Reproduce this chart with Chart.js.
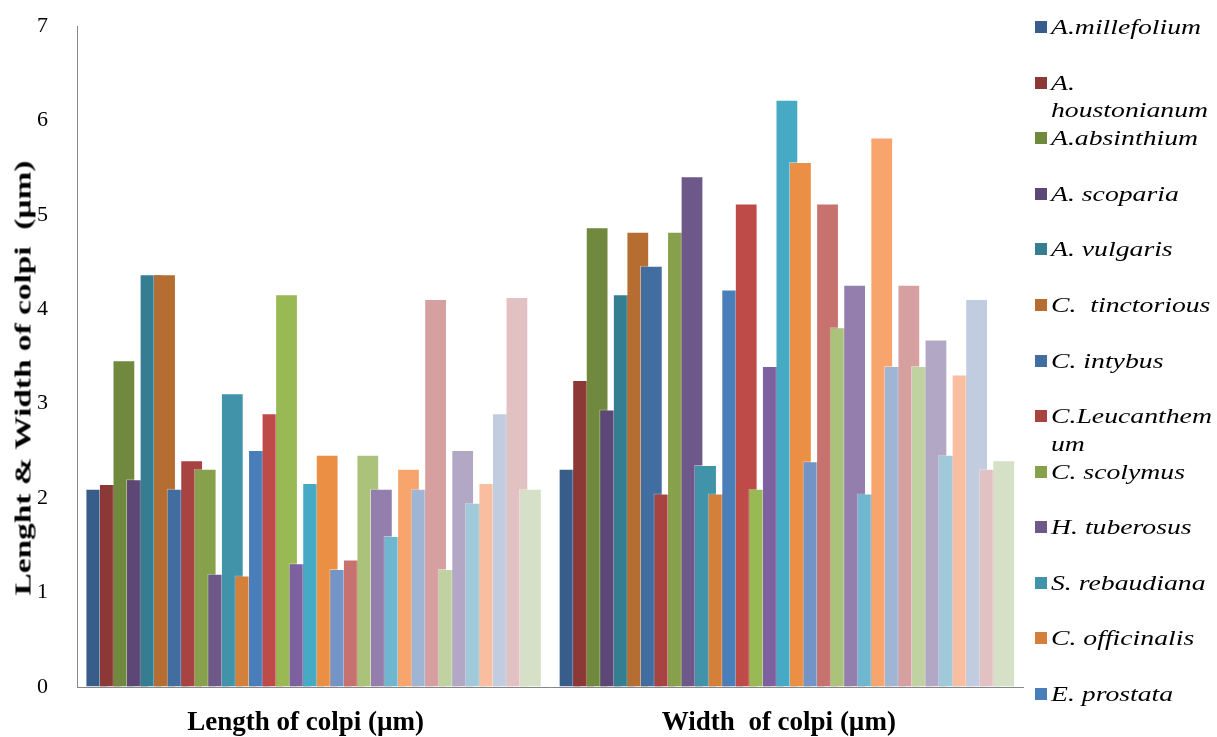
<!DOCTYPE html>
<html>
<head>
<meta charset="utf-8">
<script src="https://cdn.jsdelivr.net/npm/chart.js@4/dist/chart.umd.min.js"></script>
<style>
  html, body { margin: 0; padding: 0; background: #ffffff; }
  #wrap { position: relative; width: 1217px; height: 737px; overflow: hidden; background: #ffffff; }
  #c { position: absolute; left: 0; top: 0; }
  #ytitle {
    position: absolute; left: 23px; top: 378px;
    font: bold 23px "Liberation Serif", "Times New Roman", serif;
    color: #000; white-space: pre; line-height: 1;
    transform: translate(-50%, -50%) rotate(-90deg) scaleX(1.45);
  }
  .lg-item { position: absolute; left: 1035px; height: 55px; }
  .lg-swatch { position: absolute; left: 0; width: 12px; height: 12px; }
  .lg-text {
    position: absolute; left: 16px; width: 135px;
    font: italic 22px "Liberation Serif", "Times New Roman", serif;
    line-height: 27.5px; color: #000;
    white-space: pre-wrap; overflow-wrap: anywhere;
    transform-origin: 0 0; transform: scaleX(1.26);
  }
</style>
</head>
<body>
<div id="wrap">
  <canvas id="c" width="1217" height="737"></canvas>
  <div id="ytitle">Lenght &amp; Width of colpi  (µm)</div>
  <div id="legend"></div>
</div>
<script>
// Two measured quantities, one bar per taxon in each group
const categories = ['Length of colpi (µm)', 'Width  of colpi (µm)'];

const lengthValues = [
  2.10, 2.15, 3.46, 2.20, 4.37, 4.37, 2.10, 2.40, 2.31, 1.20, 3.11,
  1.18, 2.51, 2.90, 4.16, 1.31, 2.16, 2.46, 1.25, 1.35, 2.46, 2.10,
  1.60, 2.31, 2.10, 4.11, 1.25, 2.51, 1.95, 2.16, 2.90, 4.13, 2.10
];

const widthValues = [
  2.31, 3.25, 4.87, 2.94, 4.16, 4.82, 4.46, 2.05, 4.82, 5.41, 2.35,
  2.05, 4.21, 5.12, 2.10, 3.40, 6.22, 5.56, 2.39, 5.12, 3.81, 4.26,
  2.05, 5.82, 3.40, 4.26, 3.40, 3.68, 2.46, 3.31, 4.11, 2.31, 2.40
];

const seriesColors = [
  '#385D8A', '#8C3836', '#71893F', '#5C4776', '#357D91', '#B66D31',
  '#426DA1', '#A74442', '#87A04B', '#6E5789', '#4193AA', '#D4803A',
  '#4A7EBB', '#BE4B48', '#98B954', '#7D60A0', '#46AAC5', '#EB8F45',
  '#7394C6', '#C8726F', '#AAC27A', '#947EAE', '#6FB7CE', '#F7A46D',
  '#A0B4D4', '#D7A0A0', '#C1D2A2', '#B2A7C4', '#A0C9DA', '#F8BE9F',
  '#C1CCE1', '#E2C1C2', '#D6E0C7'
];

const legendNames = [
  'A.millefolium', 'A. houstonianum', 'A.absinthium', 'A. scoparia',
  'A. vulgaris', 'C.  tinctorious', 'C. intybus', 'C.Leucanthemum',
  'C. scolymus', 'H. tuberosus', 'S. rebaudiana', 'C. officinalis',
  'E. prostata'
];

const yTickMin = 0;
const yTickMax = 7;
const yTickStep = 1;

const datasets = seriesColors.map((color, i) => ({
  label: legendNames[i] || ('Series ' + (i + 1)),
  data: [lengthValues[i], widthValues[i]],
  backgroundColor: color,
  borderColor: 'rgba(255,255,255,0.45)',
  borderWidth: 1,
  categoryPercentage: 0.945,
  barPercentage: 1.68
}));

// Paint overlapping bars left to right so each later series sits on top
const forwardOrder = {
  id: 'forwardOrder',
  beforeDatasetsDraw(chart) {
    if (typeof chart._drawDataset !== 'function') return;
    const metas = chart.getSortedVisibleDatasetMetas();
    for (const meta of metas) chart._drawDataset(meta);
    return false;
  }
};

const serif = '"Liberation Serif", "Times New Roman", serif';

new Chart(document.getElementById('c'), {
  type: 'bar',
  data: { labels: categories, datasets },
  options: {
    responsive: false,
    animation: false,
    devicePixelRatio: 1,
    layout: { padding: { left: 0, right: 193.5, top: 26, bottom: 0 } },
    plugins: { legend: { display: false }, tooltip: { enabled: false } },
    scales: {
      x: {
        grid: { display: false },
        border: { display: true, color: '#868686', width: 1 },
        ticks: {
          color: '#000',
          padding: 12,
          labelOffset: -8,
          font: { family: serif, size: 27, weight: 'bold' }
        },
        afterFit(scale) { scale.height = 50; }
      },
      y: {
        min: yTickMin,
        max: yTickMax,
        grid: {
          display: true,
          drawOnChartArea: false,
          drawTicks: true,
          tickLength: 17,
          color: 'rgba(0,0,0,0)'
        },
        border: { display: true, color: '#868686', width: 1 },
        ticks: {
          stepSize: yTickStep,
          color: '#000',
          padding: 12,
          font: { family: serif, size: 22 }
        },
        afterFit(scale) { scale.width = 77; }
      }
    }
  },
  plugins: [forwardOrder]
});

// Legend column on the right
const legendBox = document.getElementById('legend');
legendNames.forEach((name, i) => {
  const item = document.createElement('div');
  item.className = 'lg-item';
  item.style.top = (27 + 55.55 * i - 13.75) + 'px';
  const sw = document.createElement('span');
  sw.className = 'lg-swatch';
  sw.style.background = seriesColors[i];
  sw.style.top = '8px';
  const tx = document.createElement('div');
  tx.className = 'lg-text';
  tx.style.top = '0px';
  tx.textContent = name;
  item.appendChild(sw);
  item.appendChild(tx);
  legendBox.appendChild(item);
});
</script>
</body>
</html>
